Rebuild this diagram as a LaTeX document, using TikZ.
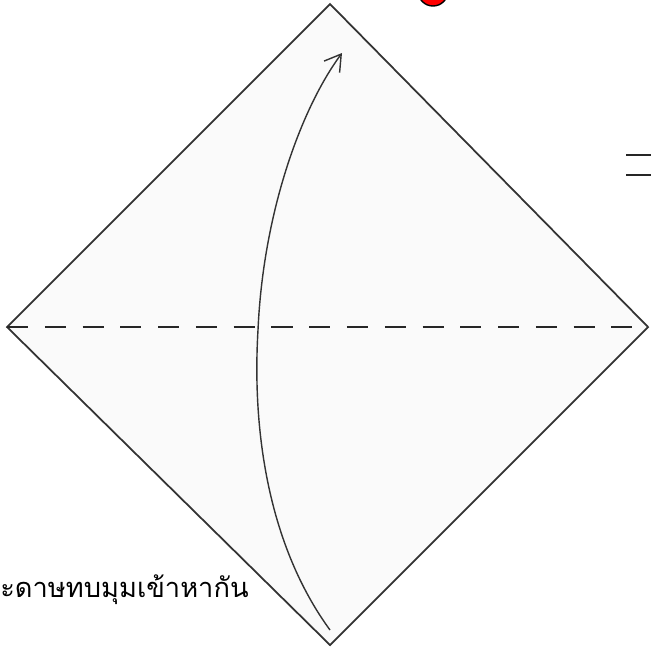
\documentclass[tikz,border=0pt]{standalone}
\usepackage{fontspec}
\newfontfamily\thaifont[Script=Thai]{Loma}
\usetikzlibrary{arrows.meta}

\begin{document}
\begin{tikzpicture}[x=0.02cm,y=-0.02cm]

% Paper size
\def\W{651};
\def\H{650};
\useasboundingbox (0,0) rectangle (\W,\H);

% Diamond corners
\coordinate (top) at (330,4);
\coordinate (right) at (648,327);
\coordinate (bottom) at (330,645);
\coordinate (left) at (7,327);

% Paper square
\draw[black!80,line width=1pt,fill=gray!4] (top) -- (right) -- (bottom) -- (left) -- cycle;

% Fold line
\draw[black!85,line width=1.4pt,dash pattern=on 12pt off 9.5pt] (left) -- (right);

% Fold arrow
\coordinate (start) at (330,630);
\coordinate (mid) at (258,330);
\coordinate (tip) at (342,53);
\draw[black!80,line width=0.8pt,-{Straight Barb[length=9pt,width=11pt]}]
  (start) .. controls (268,545) and (252,430) .. (mid)
  .. controls (263,215) and (300,110) .. (tip);

% Equal sign (cut)
\draw[black!85,line width=1.6pt] (626,155) -- (660,155);
\draw[black!85,line width=1.6pt] (626,175) -- (660,175);

% Red mark (cut)
\draw[black,fill=red,line width=0.8pt] (433,-9) ellipse (15 and 15);

% Caption
\node[anchor=base west,inner sep=0pt] (caption) at (0,597) {\thaifont\fontsize{15.5}{19}\selectfont ะดาษทบมุมเข้าหากัน};
\end{tikzpicture}
\end{document}
